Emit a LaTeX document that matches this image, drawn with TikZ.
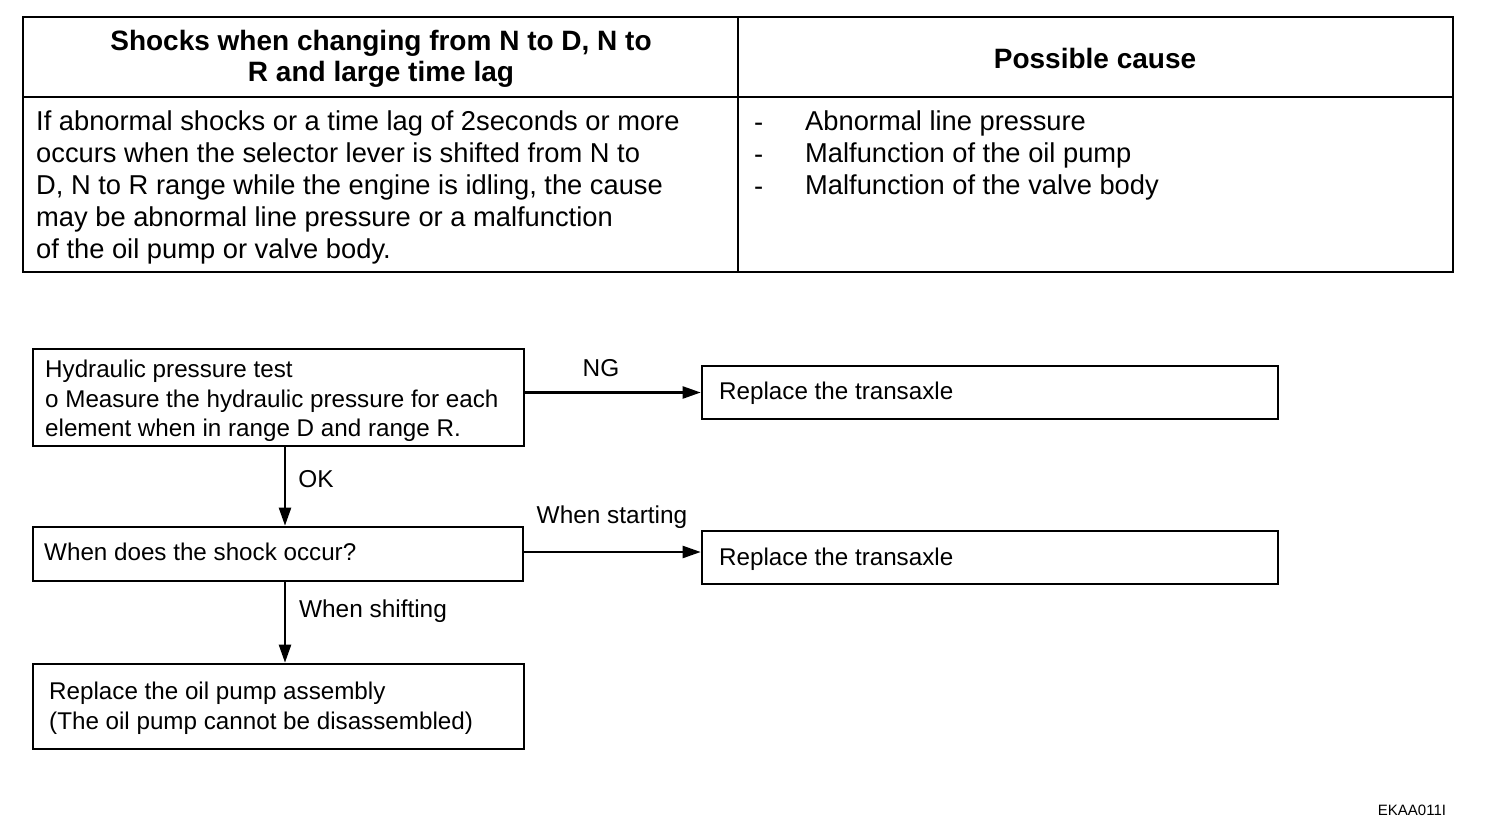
\documentclass[tikz,border=0pt]{standalone}
\usepackage{fontspec}
\setmainfont{Liberation Sans}
\usetikzlibrary{arrows.meta}
\begin{document}
\begin{tikzpicture}[x=1pt,y=-1pt,
  tline/.style={line width=1.6pt},
  box/.style={draw,line width=2.6pt,rectangle,inner sep=0pt},
  txt/.style={inner sep=0pt,align=left,font=\fontsize{24.2}{29.5}\selectfont},
  ttxt/.style={inner sep=0pt,align=left,font=\fontsize{27.3}{32}\selectfont},
  htxt/.style={inner sep=0pt,align=center,font=\fontsize{28}{31}\selectfont\bfseries},
  lbl/.style={inner sep=0pt,font=\fontsize{24.4}{26}\selectfont},
  arr/.style={line width=2.3pt,-{Triangle[length=18pt,width=12pt]}}]
\useasboundingbox (0,0) rectangle (1504,832);
% table
\draw[tline] (23,17) rectangle (1453,272);
\draw[tline] (23,97) -- (1453,97);
\draw[tline] (738,17) -- (738,272);
\node[htxt] (h1) at (381,59) {Shocks when changing from N to D, N to\\R and large time lag};
\node[htxt] (h2) at (1095,58) {Possible cause};
\node[ttxt,anchor=west] (c1) at (36,187) {If abnormal shocks or a time lag of 2seconds or more\\occurs when the selector lever is shifted from N to\\D, N to R range while the engine is idling, the cause\\may be abnormal line pressure or a malfunction\\of the oil pump or valve body.};
\node[ttxt,anchor=west] (d1) at (754,127) {-};
\node[ttxt,anchor=west] (d2) at (754,159) {-};
\node[ttxt,anchor=west] (d3) at (754,191) {-};
\node[ttxt,anchor=west] (c2) at (805,155) {Abnormal line pressure\\Malfunction of the oil pump\\Malfunction of the valve body};
% flowchart boxes
\node[box,minimum width=491,minimum height=97] (b1) at (278.5,397.5) {};
\node[box,minimum width=576,minimum height=53] (b2) at (990,392.5) {};
\node[box,minimum width=490,minimum height=54] (b3) at (278,554) {};
\node[box,minimum width=576,minimum height=53] (b4) at (990,557.5) {};
\node[box,minimum width=491,minimum height=85] (b5) at (278.5,706.5) {};
\node[txt,anchor=west] (t1) at (45,401) {Hydraulic pressure test\\o Measure the hydraulic pressure for each\\element when in range D and range R.};
\node[txt,anchor=west] (t2) at (719,393) {Replace the transaxle};
\node[txt,anchor=west] (t3) at (44,552) {When does the shock occur?};
\node[txt,anchor=west] (t4) at (719,559) {Replace the transaxle};
\node[txt,anchor=west] (t5) at (49,708) {Replace the oil pump assembly\\(The oil pump cannot be disassembled)};
% connectors
\draw[arr] (b2.west -| b1.east) -- (b2.west);
\draw[arr] ([yshift=2pt]b3.east) -- ([yshift=2pt]b3.east -| b4.west);
\draw[arr] ([xshift=6.5pt]b1.south) -- ([xshift=6.5pt]b1.south |- b3.north);
\draw[arr] ([xshift=7pt]b3.south) -- ([xshift=7pt]b3.south |- b5.north);
% labels
\node[lbl] (l1) at (601,368) {NG};
\node[lbl] (l2) at (316,479) {OK};
\node[lbl] (l3) at (612,517) {When starting};
\node[lbl] (l4) at (373,611) {When shifting};
\node[inner sep=0pt,font=\fontsize{15}{17}\selectfont] (code) at (1412,810) {EKAA011I};
\end{tikzpicture}
\end{document}
